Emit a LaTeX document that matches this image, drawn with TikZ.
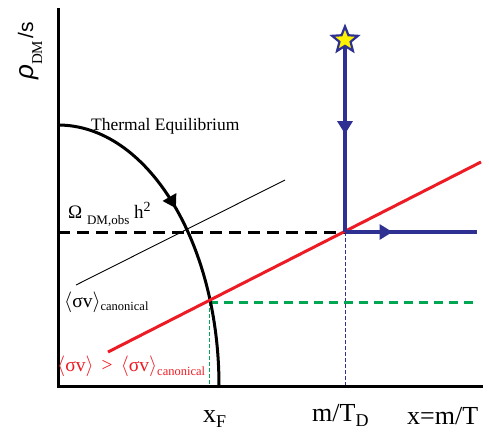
\documentclass[tikz,border=0pt]{standalone}
\usepackage{fontspec}
\setmainfont{Liberation Serif}
\newfontfamily\sansf{Liberation Sans}
\usetikzlibrary{arrows.meta,shapes.geometric,decorations.markings}
\definecolor{flowNavy}{HTML}{2E3192}
\definecolor{sigmaRed}{HTML}{ED1C24}
\definecolor{freezeGreen}{HTML}{00A651}
\definecolor{starYellow}{HTML}{FFF200}
\newcommand{\fsz}[1]{\fontsize{#1}{#1}\selectfont}
\newcommand{\lowsub}[3]{\raisebox{-#1}{\fsz{#2}#3}}
\newcommand{\svavg}{$\langle$σv$\rangle$}
\tikzset{
  axisline/.style={line width=3pt, line join=miter},
  eqcurve/.style={line width=3pt},
  flowline/.style={line width=3.2pt, flowNavy},
  relicline/.style={line width=3pt, dash pattern=on 12pt off 7pt},
  sigmaline/.style={line width=3pt, sigmaRed},
  freezeline/.style={line width=3pt, freezeGreen, dash pattern=on 9pt off 6pt},
  guideline/.style={line width=0.8pt, dash pattern=on 3.5pt off 2.5pt},
  midarrow/.style={postaction={decorate}, decoration={markings,
    mark=at position #1 with {\arrow{Triangle[length=13pt,width=15pt]}}}},
  srcstar/.style={star, star points=5, star point ratio=2.3, minimum size=27pt, inner sep=0pt,
    fill=starYellow, draw=flowNavy, line width=2.2pt},
  lbl/.style={inner sep=0pt, anchor=base west}
}
\begin{document}
\begin{tikzpicture}[x=1pt, y=-1pt]
  \useasboundingbox (0,0) rectangle (489,432);
  % axes
  \coordinate (O) at (58,386);
  \coordinate (ytop) at (58,8);
  \coordinate (xend) at (483,386);
  % key points
  \coordinate (teqtop) at (58,125);
  \coordinate (fo) at (209,302);
  \coordinate (dec) at (345,232);
  \coordinate (decfoot) at (345,386);
  \coordinate (fofoot) at (209,386);
  \coordinate (obsend) at (58,232);
  \coordinate (flowend) at (477,232);
  \coordinate (greenend) at (477,302);
  \coordinate (redlo) at (108,352);
  \coordinate (redhi) at (481,162);
  \coordinate (canlo) at (76,285);
  \coordinate (canhi) at (285,180);

  \draw[guideline, flowNavy] (dec) -- (decfoot);
  \draw[guideline, freezeGreen] (fo) -- (fofoot);
  \draw[freezeline] (fo) -- (greenend);
  \draw[relicline] (obsend) -- (dec);
  \draw[line width=0.9pt] (canlo) -- (canhi);
  \draw[eqcurve, midarrow=0.45] (teqtop) arc[start angle=90, end angle=0, x radius=161pt, y radius=261pt];
  \draw[sigmaline] (redlo) -- (redhi);
  \draw[flowline, midarrow=0.36] (dec) -- (flowend);
  \coordinate (src) at (345,40);
  \draw[flowline, midarrow=0.49] (src) -- (dec);
  \node[srcstar] (srcmark) at (src) {};
  \draw[axisline] (ytop) -- (O) -- (xend);

  % labels
  \node[lbl, rotate=90] (ylab) at (33,80) {{\sansf\itshape\fsz{26}ρ}\lowsub{9pt}{15}{DM}\ {\sansf\fsz{21}/s}};
  \node[lbl] (teqlab) at (91,130) {\fsz{17.5}Thermal Equilibrium};
  \node[lbl] (obslab) at (68,218) {\fsz{19}Ω \lowsub{6pt}{13}{DM,obs} h\raisebox{7pt}{\fsz{14}2}};
  \node[lbl] (canlab) at (64,307) {\fsz{19.5}\svavg\lowsub{3pt}{12.5}{canonical}};
  \node[lbl, text=sigmaRed] (biglab) at (57,371) {\fsz{19.5}\svavg\ \,>\ \,\svavg\lowsub{4pt}{12.5}{canonical}};
  \node[lbl] (xflab) at (203,422) {\fsz{26}x\lowsub{5pt}{18}{F}};
  \node[lbl] (tdlab) at (312,421) {\fsz{26}m/T\lowsub{5pt}{18}{D}};
  \node[lbl] (xlab) at (407,424) {\fsz{26}x=m/T};
\end{tikzpicture}
\end{document}
